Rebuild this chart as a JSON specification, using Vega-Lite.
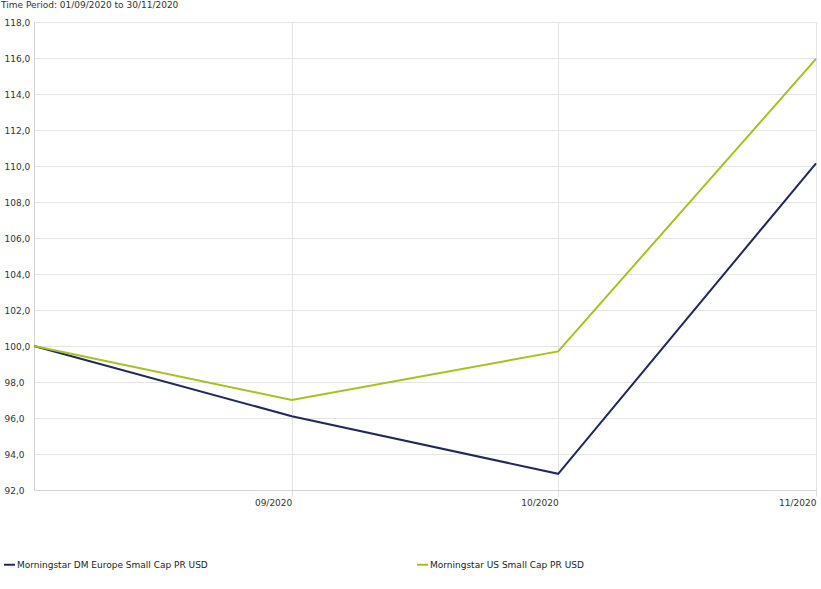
{
  "$schema": "https://vega.github.io/schema/vega-lite/v6.json",
  "width": 782,
  "height": 468,
  "autosize": {"type": "none"},
  "padding": {"left": 34, "top": 22, "right": 5, "bottom": 99},
  "background": "white",
  "config": {
    "locale": {"number": {"decimal": ",", "thousands": ".", "grouping": [3], "currency": ["", " €"]}},
    "font": "DejaVu Sans",
    "view": {"stroke": "#d4d4d4"}
  },
  "title": {
    "text": "Time Period: 01/09/2020 to 30/11/2020",
    "anchor": "start",
    "frame": "group",
    "dx": -33,
    "offset": 8,
    "fontSize": 9,
    "fontWeight": "normal",
    "color": "#333333",
    "font": "DejaVu Sans"
  },
  "data": {
    "values": [
      {"date": "2020-08-31", "series": "Morningstar DM Europe Small Cap PR USD", "value": 100.0},
      {"date": "2020-09-30", "series": "Morningstar DM Europe Small Cap PR USD", "value": 96.1},
      {"date": "2020-10-31", "series": "Morningstar DM Europe Small Cap PR USD", "value": 92.9},
      {"date": "2020-11-30", "series": "Morningstar DM Europe Small Cap PR USD", "value": 110.15},
      {"date": "2020-08-31", "series": "Morningstar US Small Cap PR USD", "value": 100.0},
      {"date": "2020-09-30", "series": "Morningstar US Small Cap PR USD", "value": 97.0},
      {"date": "2020-10-31", "series": "Morningstar US Small Cap PR USD", "value": 99.7},
      {"date": "2020-11-30", "series": "Morningstar US Small Cap PR USD", "value": 115.95}
    ]
  },
  "mark": {"type": "line", "strokeWidth": 2},
  "encoding": {
    "x": {
      "field": "date",
      "type": "temporal",
      "scale": {"domain": ["2020-08-31", "2020-11-30"], "nice": false},
      "axis": {
        "title": null,
        "values": ["2020-09-30", "2020-10-31", "2020-11-30"],
        "format": "%m/%Y",
        "labelAlign": "right",
        "labelPadding": 2,
        "labelFontSize": 9,
        "labelColor": "#333333",
        "labelFont": "DejaVu Sans",
        "tickSize": 6,
        "tickColor": "#dcdcdc",
        "domainColor": "#d4d4d4",
        "gridColor": "#e4e4e4",
        "grid": true
      }
    },
    "y": {
      "field": "value",
      "type": "quantitative",
      "scale": {"domain": [92, 118], "nice": false, "zero": false},
      "axis": {
        "title": null,
        "values": [92, 94, 96, 98, 100, 102, 104, 106, 108, 110, 112, 114, 116, 118],
        "format": ".1f",
        "labelAlign": "left",
        "labelPadding": 30,
        "labelFontSize": 9,
        "labelColor": "#333333",
        "labelFont": "DejaVu Sans",
        "ticks": false,
        "domainColor": "#d4d4d4",
        "gridColor": "#e4e4e4",
        "grid": true
      }
    },
    "color": {
      "field": "series",
      "type": "nominal",
      "scale": {
        "domain": ["Morningstar DM Europe Small Cap PR USD", "Morningstar US Small Cap PR USD"],
        "range": ["#1e2a5e", "#a6c21e"]
      },
      "legend": {
        "title": null,
        "orient": "none",
        "legendX": -31,
        "legendY": 536,
        "direction": "horizontal",
        "symbolType": "stroke",
        "symbolStrokeWidth": 2,
        "symbolSize": 120,
        "labelOffset": 1,
        "labelFontSize": 9,
        "labelColor": "#222222",
        "labelFont": "DejaVu Sans",
        "labelLimit": 400,
        "columnPadding": 205
      }
    }
  }
}
